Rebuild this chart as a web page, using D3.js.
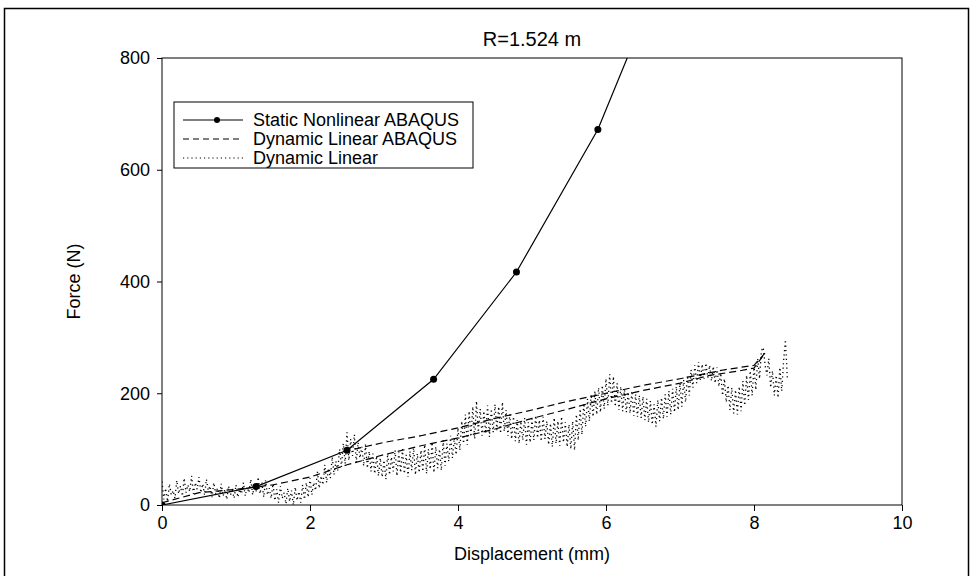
<!DOCTYPE html>
<html>
<head>
<meta charset="utf-8">
<script src="https://cdn.jsdelivr.net/npm/d3@7"></script>
<style>
  body { margin: 0; background: #fff; }
  text { font-family: "Liberation Sans", Arial, sans-serif; fill: #000; }
</style>
</head>
<body>
<svg id="chart" width="973" height="576"></svg>
<script>
// values
var xTicks = [0, 2, 4, 6, 8, 10];
var yTicks = [0, 200, 400, 600, 800];

// static nonlinear ABAQUS (solid with dots)
var staticX = [0, 1.27, 2.5, 3.67, 4.79, 5.89, 7.0];
var staticY = [0, 33, 98, 225, 417, 672, 1030];

// dynamic linear ABAQUS (dashed)
var abaqusX = [0, 0.5, 1.0, 1.5, 2.0, 2.5, 3.0, 3.5, 4.0, 4.5, 5.0, 5.5, 6.0, 6.5, 7.0, 7.4, 7.8, 8.0, 8.15, 8.0, 7.6, 7.0, 6.5, 6.0, 5.5, 5.0, 4.5, 4.0, 3.5, 3.0, 2.6];
var abaqusY = [4, 22, 28, 36, 50, 72, 90, 106, 120, 136, 155, 172, 190, 205, 218, 232, 240, 245, 272, 250, 242, 226, 214, 200, 186, 170, 155, 138, 124, 112, 100];

// dynamic linear (dotted, noisy), sampled every 0.025 mm from x = 0
var dynStep = 0.025;
var dynY = [
  42,10,30,6,38,18,26,12,44,20,34,16,48,22,36,24,52,20,40,28,
  50,22,38,18,46,26,34,14,40,20,30,12,38,16,28,10,34,18,26,12,
  36,14,28,20,40,16,32,22,46,18,36,24,50,20,40,14,44,18,30,12,
  38,8,28,4,34,12,22,2,30,6,26,0,32,8,24,4,36,10,40,14,
  48,18,40,26,60,30,52,36,72,40,66,48,86,54,78,62,100,68,110,74,
  130,80,118,88,126,76,112,84,104,70,108,66,96,60,92,56,88,52,84,50,
  80,46,92,54,86,60,98,52,94,58,100,56,90,50,96,62,102,54,92,58,
  98,60,108,56,100,64,112,58,104,66,100,62,116,70,110,78,124,84,120,90,
  138,98,150,110,162,108,168,122,176,118,186,130,172,124,168,128,178,122,172,130,
  180,134,176,128,184,132,170,124,162,118,158,114,152,110,150,116,156,108,148,112,
  154,116,160,120,152,114,158,118,150,108,146,104,156,110,150,106,158,112,148,104,
  144,100,150,98,162,116,172,126,182,140,190,150,198,158,204,162,210,166,214,172,
  226,178,234,182,230,176,218,170,212,168,206,166,202,164,204,160,198,158,196,156,
  194,152,190,148,186,144,180,140,188,150,192,154,198,158,204,162,208,166,212,170,
  218,176,224,184,232,196,242,210,250,218,256,224,252,226,254,228,250,222,248,218,
  246,212,236,196,226,184,214,170,210,164,206,162,212,168,222,178,232,188,240,196,
  250,206,262,226,276,282,250,232,262,210,240,196,232,192,246,204,258,296,228];

var width = 973, height = 576;
var margin = {left: 162, right: 71, top: 58, bottom: 71};

var svg = d3.select("#chart");

// outer frame
svg.append("rect")
  .attr("x", 4.5).attr("y", 8.5)
  .attr("width", 964).attr("height", 580)
  .attr("fill", "none").attr("stroke", "#000").attr("stroke-width", 1.5);

var x = d3.scaleLinear().domain([0, 10]).range([margin.left, width - margin.right]);
var y = d3.scaleLinear().domain([0, 800]).range([height - margin.bottom, margin.top]);

svg.append("defs").append("clipPath").attr("id", "clip")
  .append("rect")
  .attr("x", x(0)).attr("y", y(800))
  .attr("width", x(10) - x(0)).attr("height", y(0) - y(800));

// plot box
svg.append("rect")
  .attr("x", x(0)).attr("y", y(800))
  .attr("width", x(10) - x(0)).attr("height", y(0) - y(800))
  .attr("fill", "none").attr("stroke", "#000").attr("stroke-width", 1);

var xAxis = svg.append("g")
  .attr("transform", "translate(0," + y(0) + ")")
  .call(d3.axisBottom(x).tickValues(xTicks).tickSize(6).tickPadding(5));
var yAxis = svg.append("g")
  .attr("transform", "translate(" + x(0) + ",0)")
  .call(d3.axisLeft(y).tickValues(yTicks).tickSize(5).tickPadding(7));

[xAxis, yAxis].forEach(function(a) {
  a.select(".domain").remove();
  a.selectAll("line").attr("stroke", "#000");
  a.selectAll("text").style("font-size", "18px").attr("font-family", "Liberation Sans, Arial, sans-serif");
});

// titles
svg.append("text")
  .attr("x", (x(0) + x(10)) / 2).attr("y", 46)
  .attr("text-anchor", "middle").style("font-size", "20px")
  .text("R=1.524 m");

svg.append("text")
  .attr("x", (x(0) + x(10)) / 2).attr("y", 560)
  .attr("text-anchor", "middle").style("font-size", "18px")
  .text("Displacement (mm)");

svg.append("text")
  .attr("transform", "translate(80," + ((y(0) + y(800)) / 2) + ") rotate(-90)")
  .attr("text-anchor", "middle").style("font-size", "18px")
  .text("Force (N)");

var plot = svg.append("g").attr("clip-path", "url(#clip)");

var line = d3.line()
  .x(function(d) { return x(d[0]); })
  .y(function(d) { return y(d[1]); });

var dynData = dynY.map(function(v, i) { return [i * dynStep, v]; });
var abaqusData = abaqusX.map(function(v, i) { return [v, abaqusY[i]]; });
var staticData = staticX.map(function(v, i) { return [v, staticY[i]]; });

plot.append("path")
  .datum(dynData)
  .attr("d", line)
  .attr("fill", "none").attr("stroke", "#000")
  .attr("stroke-width", 1.3).attr("stroke-dasharray", "1.2,3.2");

plot.append("path")
  .datum(abaqusData)
  .attr("d", line)
  .attr("fill", "none").attr("stroke", "#000")
  .attr("stroke-width", 1.2).attr("stroke-dasharray", "7,4");

plot.append("path")
  .datum(staticData)
  .attr("d", line)
  .attr("fill", "none").attr("stroke", "#000").attr("stroke-width", 1.2);

plot.selectAll("circle.pt")
  .data(staticData)
  .enter().append("circle")
  .attr("class", "pt")
  .attr("cx", function(d) { return x(d[0]); })
  .attr("cy", function(d) { return y(d[1]); })
  .attr("r", 3.5)
  .attr("fill", "#000");

// legend
var legend = svg.append("g").attr("transform", "translate(174,102)");
legend.append("rect")
  .attr("width", 299).attr("height", 66)
  .attr("fill", "#fff").attr("stroke", "#000").attr("stroke-width", 1);

var legendItems = [
  {label: "Static Nonlinear ABAQUS", dash: null, marker: true},
  {label: "Dynamic Linear ABAQUS", dash: "6,4", marker: false},
  {label: "Dynamic Linear", dash: "1.2,3", marker: false}
];

legendItems.forEach(function(d, i) {
  var ly = 18 + i * 19;
  legend.append("line")
    .attr("x1", 9).attr("x2", 69).attr("y1", ly).attr("y2", ly)
    .attr("stroke", "#000").attr("stroke-width", 1.2)
    .attr("stroke-dasharray", d.dash);
  if (d.marker) {
    legend.append("circle").attr("cx", 43).attr("cy", ly).attr("r", 3).attr("fill", "#000");
  }
  legend.append("text")
    .attr("x", 79).attr("y", ly + 6)
    .style("font-size", "18px")
    .text(d.label);
});
</script>
</body>
</html>
